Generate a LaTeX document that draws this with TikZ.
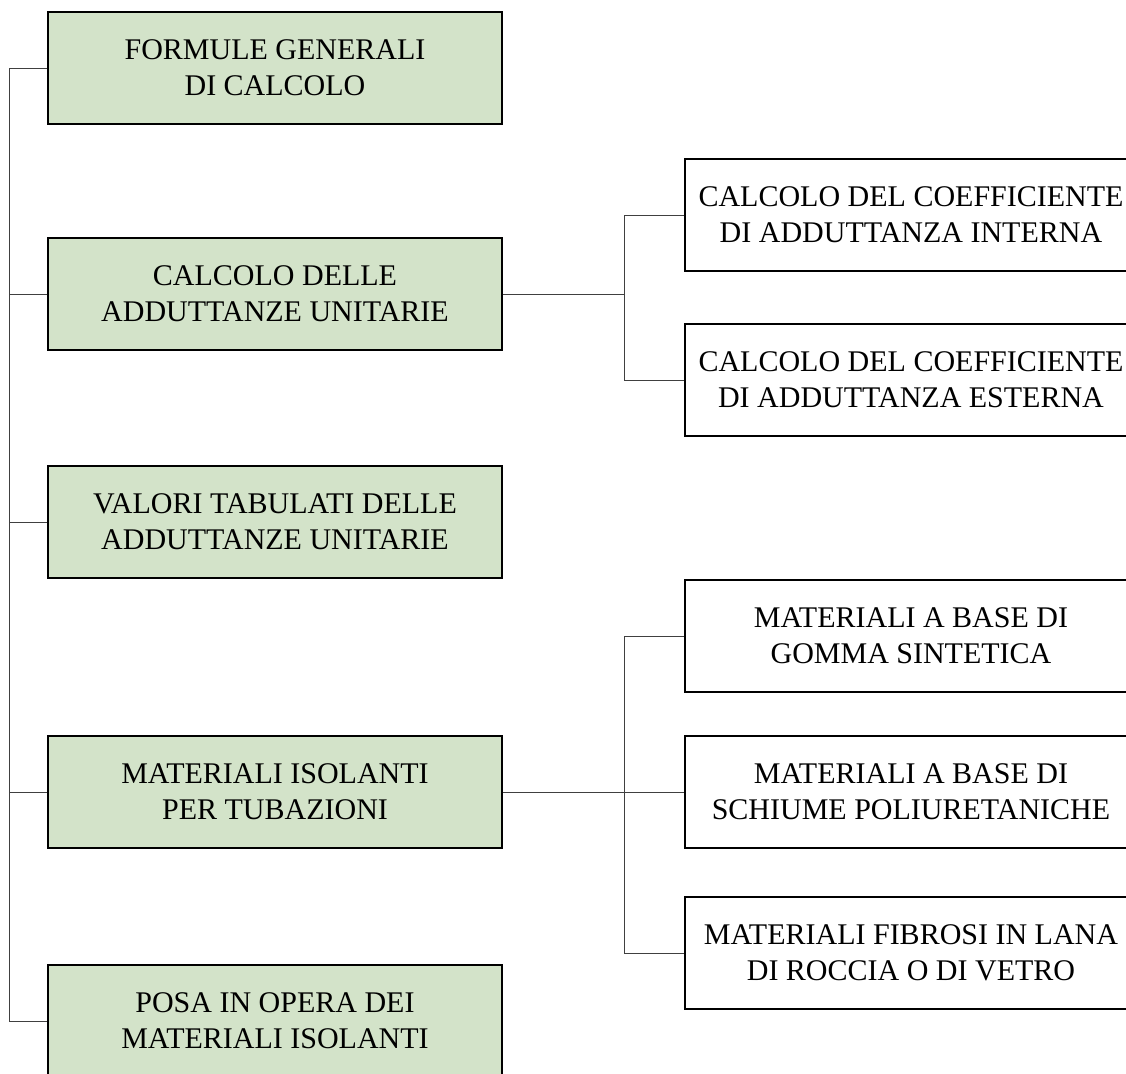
\documentclass[tikz,border=0pt]{standalone}
\usepackage{fontspec}
\setmainfont{Liberation Serif}
\definecolor{boxgreen}{RGB}{211,227,201}
\begin{document}
\begin{tikzpicture}[x=1pt,y=-1pt,
  lbox/.style={draw=black,line width=1.3pt,fill=boxgreen,minimum width=454pt,minimum height=112pt,
    inner sep=0pt,align=center,font=\fontsize{30}{36}\selectfont},
  rbox/.style={draw=black,line width=1.3pt,fill=white,minimum width=452pt,minimum height=112pt,
    inner sep=0pt,align=center,font=\fontsize{30}{36}\selectfont},
  conn/.style={draw=black!75,line width=1pt}]
\useasboundingbox (0,0) rectangle (1126,1073);
\clip (0,0) rectangle (1126,1073);
\coordinate (tx) at (9,0);
\coordinate (bx) at (624,0);
\node[lbox] (L1) at (275,68) {FORMULE GENERALI\\DI CALCOLO};
\node[lbox] (L2) at (275,294) {CALCOLO DELLE\\ADDUTTANZE UNITARIE};
\node[lbox] (L3) at (275,522) {VALORI TABULATI DELLE\\ADDUTTANZE UNITARIE};
\node[lbox] (L4) at (275,792) {MATERIALI ISOLANTI\\PER TUBAZIONI};
\node[lbox] (L5) at (275,1021) {POSA IN OPERA DEI\\MATERIALI ISOLANTI};
\node[rbox] (R1) at (911,215) {CALCOLO DEL COEFFICIENTE\\DI ADDUTTANZA INTERNA};
\node[rbox] (R2) at (911,380) {CALCOLO DEL COEFFICIENTE\\DI ADDUTTANZA ESTERNA};
\node[rbox] (R3) at (911,636) {MATERIALI A BASE DI\\GOMMA SINTETICA};
\node[rbox] (R4) at (911,792) {MATERIALI A BASE DI\\SCHIUME POLIURETANICHE};
\node[rbox] (R5) at (911,953) {MATERIALI FIBROSI IN LANA\\DI ROCCIA O DI VETRO};
% trunk
\draw[conn] (L1.west) -- (L1.west -| tx) -- (L5.west -| tx) -- (L5.west);
\draw[conn] (L2.west) -- (L2.west -| tx);
\draw[conn] (L3.west) -- (L3.west -| tx);
\draw[conn] (L4.west) -- (L4.west -| tx);
% branch 1
\draw[conn] (L2.east) -- (L2.east -| bx);
\draw[conn] (R1.west) -- (R1.west -| bx) -- (R2.west -| bx) -- (R2.west);
% branch 2
\draw[conn] (L4.east) -- (R4.west);
\draw[conn] (R3.west) -- (R3.west -| bx) -- (R5.west -| bx) -- (R5.west);
\end{tikzpicture}
\end{document}
